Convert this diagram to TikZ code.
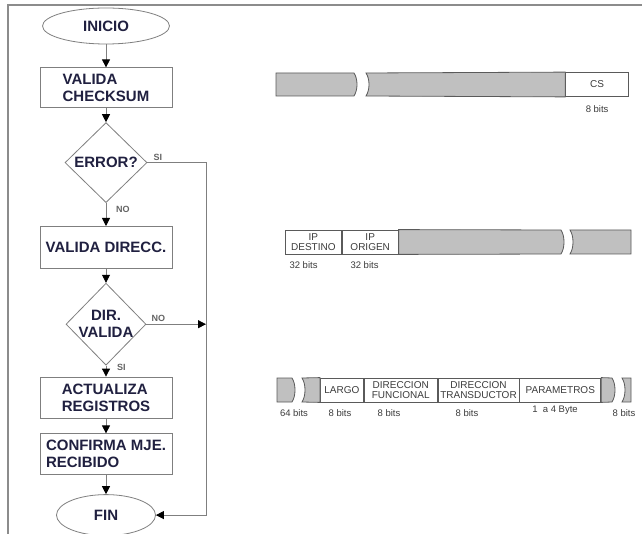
\documentclass[tikz,border=0pt]{standalone}
\usepackage{fontspec}
\setmainfont{Liberation Sans}
\usepackage{xcolor}
\definecolor{cInk}  {HTML}{202040}
\definecolor{cLine} {HTML}{7F7F7F}
\definecolor{cFrame}{HTML}{8C8C8C}
\definecolor{cGray} {HTML}{C0C0C0}
\definecolor{cEdge} {HTML}{5A5A5A}
\definecolor{cNote} {HTML}{3C3C3C}
\usetikzlibrary{shapes.geometric, arrows.meta, positioning}
\tikzset{
  blk/.style  = {rectangle, draw=cLine, fill=white, line width=0.8pt,
                 minimum width=132pt, minimum height=#1, align=left,
                 font=\bfseries\fontsize{15}{17}\selectfont, text=cInk},
  blk/.default = 41pt,
  term/.style = {ellipse, draw=cLine, fill=white, line width=0.8pt,
                 minimum width=#1, minimum height=36pt,
                 font=\bfseries\fontsize{15}{17}\selectfont, text=cInk},
  dec/.style  = {diamond, draw=cLine, fill=white, line width=0.8pt,
                 minimum width=82pt, minimum height=80pt, inner sep=-2pt,
                 align=center, font=\bfseries\fontsize{15}{17}\selectfont,
                 text=cInk},
  arr/.style  = {draw=cLine, line width=0.8pt,
                 -{Triangle[length=8pt, width=8pt, color=black]}},
  tag/.style  = {font=\bfseries\fontsize{9}{10}\selectfont, text=cNote!80,
                 inner sep=1pt},
  cell/.style = {rectangle, draw=cEdge, fill=white, line width=0.8pt,
                 minimum width=#1, minimum height=24pt, inner sep=1pt,
                 align=center, font=\fontsize{10}{10}\selectfont, text=cNote},
  seg/.style  = {draw=cEdge, fill=cGray, line width=0.8pt},
  bits/.style = {font=\fontsize{9.5}{10}\selectfont, text=cNote},
  frame/.style = {draw=cFrame, line width=1.6pt},
}

\begin{document}
\begin{tikzpicture}[x=1pt, y=-1pt]
  \useasboundingbox (0,0) rectangle (642,534);
  \draw[frame] (8,534) -- (8,5) -- (642,5);

  %% Flow chart (left column)
  \node[term=127pt] (ini) at (106,26) {INICIO};
  \node[blk=40pt, below=23pt of ini]  (chk)  {VALIDA\\CHECKSUM};
  \node[dec,      below=14pt of chk]  (err)  {ERROR?};
  \node[blk=42pt, below=23pt of err]  (dir)  {VALIDA DIRECC.};
  \node[dec, minimum width=80pt, minimum height=82pt,
        below=14pt of dir]            (vdir) {DIR.\\VALIDA};
  \node[blk,      below=11pt of vdir] (act)  {ACTUALIZA\\REGISTROS};
  \node[blk,      below=15pt of act]  (conf) {CONFIRMA MJE.\\RECIBIDO};
  \node[term=99pt, minimum height=41pt,
        below=19pt of conf]           (fin)  {FIN};

  \coordinate (bus) at (206,0);

  %% Arrows
  \draw[arr] (ini)  -- (chk);
  \draw[arr] (chk)  -- (err);
  \draw[arr] (err)  -- (dir);
  \draw[arr] (dir)  -- (vdir);
  \draw[arr] (vdir) -- (act);
  \draw[arr] (act)  -- (conf);
  \draw[arr] (conf) -- (fin);
  \draw[arr] (err.east) -| (bus |- fin.east) -- (fin.east);
  \draw[arr] (vdir.east) -- (vdir.east -| bus);

  \node[tag, above right=1pt and 5pt of err.east]   {SI};
  \node[tag, below right=2pt and 9pt of err.south]  {NO};
  \node[tag, above right=1pt and 4pt of vdir.east]  {NO};
  \node[tag, below right=-3pt and 10pt of vdir.south] {SI};

  %% Frame 1
  \node[cell=63pt, anchor=east] (cs) at (629,84.5) {CS};
  \path[seg] (276,73) -- (354,73) .. controls (358,79) and (358,90) .. (354,96)
             -- (276,96) -- cycle;
  \path[seg] (366,73) .. controls (370,79) and (370,90) .. (366,96)
             -- (cs.south west) -- (cs.north west) -- cycle;
  \node[bits, below=5pt of cs] (csb) {8 bits};

  %% Frame 2
  \node[cell=56pt, anchor=west] (dest) at (285,242) {IP\\DESTINO};
  \node[cell=56pt, right=0pt of dest] (orig) {IP\\ORIGEN};
  \path[seg] (orig.north east) -- (561,230) .. controls (565,236) and (565,248) .. (561,254)
             -- (orig.south east) -- cycle;
  \path[seg] (570,230) .. controls (574,236) and (574,248) .. (570,254)
             -- (631,254) -- (631,230) -- cycle;
  \node[bits, anchor=west] (destb) at (286,265) {32 bits};
  \node[bits, anchor=west] (origb) at (347,265) {32 bits};

  %% Frame 3
  \node[cell=43pt, anchor=west] (largo) at (320,390) {LARGO};
  \node[cell=73pt, right=0pt of largo] (func)  {DIRECCION\\FUNCIONAL};
  \node[cell=81pt, right=0pt of func]  (trans) {DIRECCION\\TRANSDUCTOR};
  \node[cell=81pt, right=0pt of trans] (param) {PARAMETROS};
  \path[seg] (277,378) -- (292,378) .. controls (296,384) and (296,396) .. (292,402)
             -- (277,402) -- cycle;
  \path[seg] (302,378) .. controls (306,384) and (306,396) .. (302,402)
             -- (largo.south west) -- (largo.north west) -- cycle;
  \path[seg] (param.north east) -- (612,378) .. controls (616,384) and (616,396) .. (612,402)
             -- (param.south east) -- cycle;
  \path[seg] (622,378) .. controls (626,384) and (626,396) .. (622,402)
             -- (631,402) -- (631,378) -- cycle;
  \node[bits] (b64)   at (294,413) {64 bits};
  \node[bits] (blarg) at (340,413) {8 bits};
  \node[bits] (bfunc) at (389,413) {8 bits};
  \node[bits] (btran) at (467,413) {8 bits};
  \node[bits] (bpar)  at (555,410) {1\ \ a 4 Byte};
  \node[bits] (bend)  at (624,413) {8 bits};

\end{tikzpicture}
\end{document}
